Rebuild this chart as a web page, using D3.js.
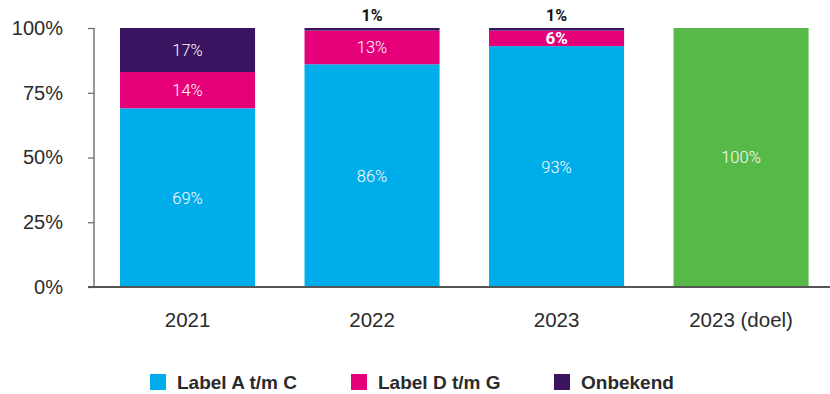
<!DOCTYPE html>
<html>
<head>
<meta charset="utf-8">
<script src="https://cdn.jsdelivr.net/npm/d3@7"></script>
<style>
  html, body { margin: 0; padding: 0; background: #fff; }
  svg { display: block; }
</style>
</head>
<body>
<svg id="chart" width="830" height="394"></svg>
<script>
const categories = ["2021", "2022", "2023", "2023 (doel)"];
const seriesNames = ["Label A t/m C", "Label D t/m G", "Onbekend", "Doel"];
const labelAC = [69, 86, 93, 0];
const labelDG = [14, 13, 6, 0];
const onbekend = [17, 1, 1, 0];
const doel = [0, 0, 0, 100];
const yTicks = [0, 25, 50, 75, 100];
const legendNames = ["Label A t/m C", "Label D t/m G", "Onbekend"];

const colors = {
  "Label A t/m C": "#00adeb",
  "Label D t/m G": "#e5007a",
  "Onbekend": "#3a1460",
  "Doel": "#57b947"
};

const rows = categories.map((c, i) => ({
  cat: c,
  "Label A t/m C": labelAC[i],
  "Label D t/m G": labelDG[i],
  "Onbekend": onbekend[i],
  "Doel": doel[i]
}));

const svg = d3.select("#chart");

const x = d3.scaleBand()
  .domain(categories)
  .range([94, 834.6])
  .paddingInner(0.268)
  .paddingOuter(0.141);

const y = d3.scaleLinear().domain([0, 100]).range([287, 28]);

const stack = d3.stack().keys(seriesNames);
const stacked = stack(rows);

// bars
const g = svg.append("g");
stacked.forEach(layer => {
  g.selectAll(null)
    .data(layer)
    .join("rect")
    .attr("x", d => x(d.data.cat))
    .attr("width", x.bandwidth())
    .attr("y", d => y(d[1]))
    .attr("height", d => y(d[0]) - y(d[1]))
    .attr("fill", colors[layer.key]);
});

const axisFont = "'Liberation Sans', Arial, sans-serif";

// y axis
const yAxis = d3.axisLeft(y)
  .tickValues(yTicks)
  .tickFormat(d => d + "%")
  .tickSize(6)
  .tickPadding(25);
const ya = svg.append("g").attr("transform", "translate(94,0)").call(yAxis);
ya.select(".domain").attr("stroke", "#555").attr("stroke-width", 1.2).attr("d", "M0,28V287");
ya.selectAll(".tick line").attr("stroke", "#666").attr("stroke-width", 1.2);
ya.selectAll(".tick text")
  .attr("fill", "#2b2b2b")
  .style("font-family", axisFont)
  .style("font-size", "20px");

// x axis
const xAxis = d3.axisBottom(x).tickSize(0).tickPadding(25);
const xa = svg.append("g").attr("transform", "translate(0,287)").call(xAxis);
xa.select(".domain").attr("stroke", "#555").attr("stroke-width", 2).attr("d", "M88,0H830");
xa.selectAll(".tick text")
  .attr("fill", "#2b2b2b")
  .style("font-family", axisFont)
  .style("font-size", "20.5px");

// value labels
const labelFont = "Roboto, 'Liberation Sans', sans-serif";
stacked.forEach(layer => {
  layer.forEach(d => {
    const v = d[1] - d[0];
    if (v <= 0) return;
    const cx = x(d.data.cat) + x.bandwidth() / 2;
    if (v <= 2) {
      svg.append("text")
        .attr("x", cx)
        .attr("y", y(d[1]) - 7)
        .attr("text-anchor", "middle")
        .attr("fill", "#111")
        .style("font-family", labelFont)
        .style("font-weight", 700)
        .style("font-size", "16px")
        .text(v + "%");
    } else {
      const bold = v < 10;
      svg.append("text")
        .attr("x", cx)
        .attr("y", (y(d[0]) + y(d[1])) / 2)
        .attr("dy", "0.36em")
        .attr("text-anchor", "middle")
        .attr("fill", "#fff")
        .style("font-family", labelFont)
        .style("font-weight", bold ? 700 : 300)
        .style("font-size", bold ? "17px" : "16.5px")
        .text(v + "%");
    }
  });
});

// legend
const legendX = [150, 351, 554];
const lg = svg.append("g");
legendNames.forEach((n, i) => {
  lg.append("rect")
    .attr("x", legendX[i]).attr("y", 374)
    .attr("width", 16).attr("height", 16)
    .attr("fill", colors[n]);
  lg.append("text")
    .attr("x", legendX[i] + 27).attr("y", 389)
    .attr("fill", "#2a2a2a")
    .style("font-family", axisFont)
    .style("font-weight", 700)
    .style("font-size", "19px")
    .text(n);
});
</script>
</body>
</html>
